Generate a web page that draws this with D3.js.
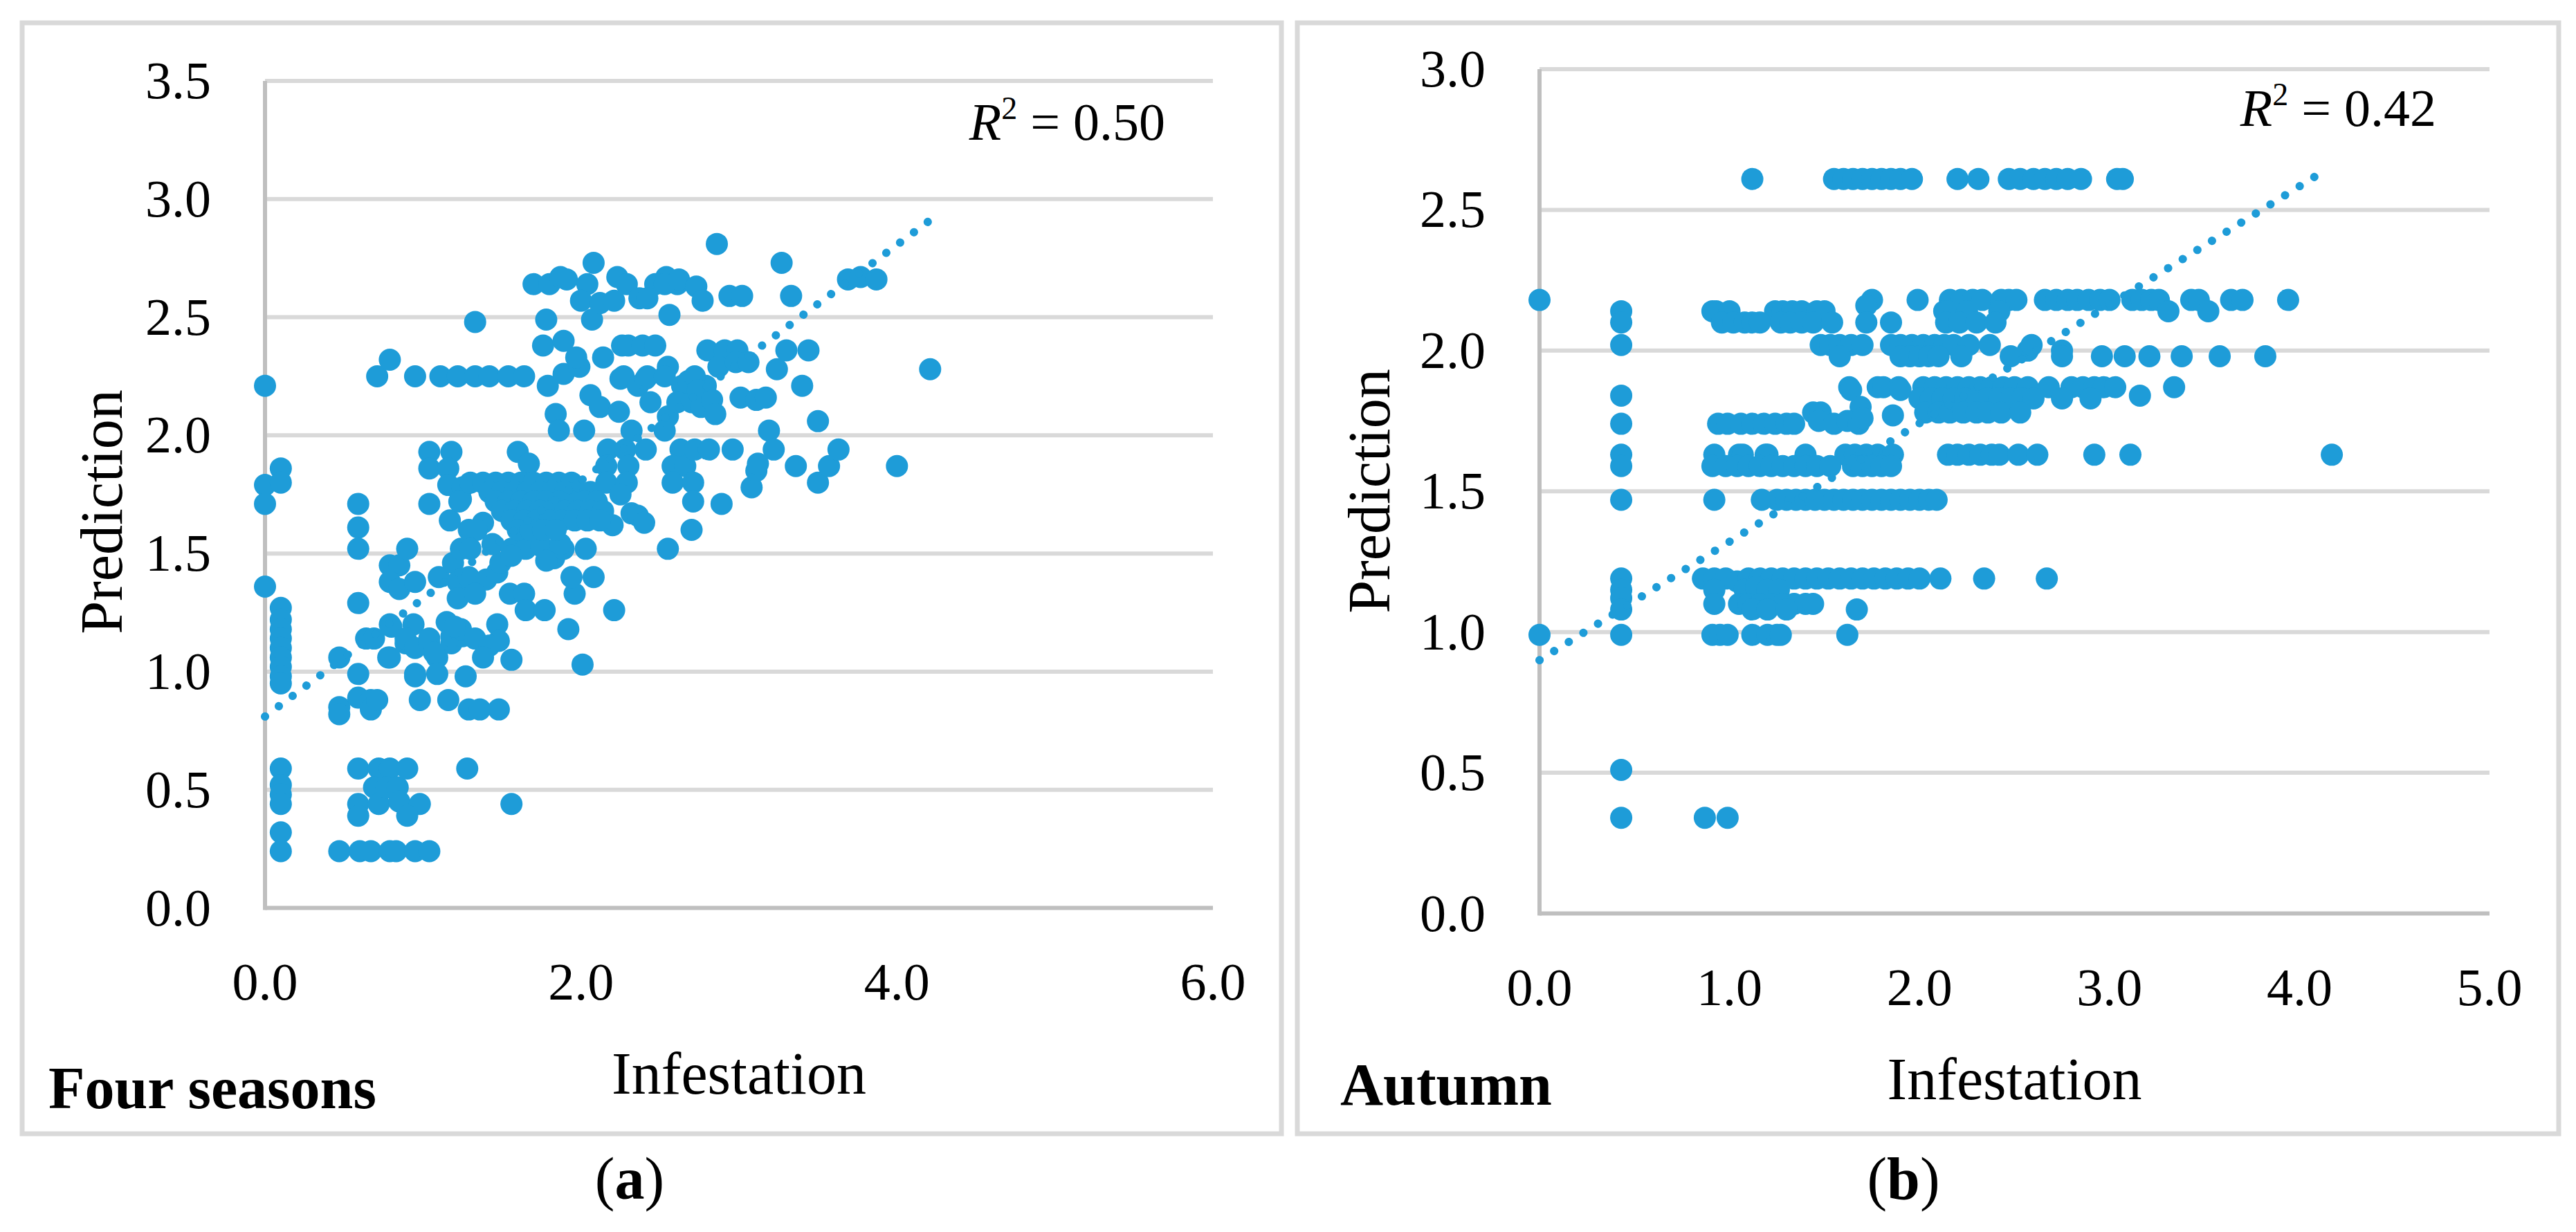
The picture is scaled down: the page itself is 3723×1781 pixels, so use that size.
<!DOCTYPE html>
<html>
<head>
<meta charset="utf-8">
<script src="https://cdn.jsdelivr.net/npm/d3@7"></script>
<style>
  body { margin: 0; background: #fff; }
  text { font-family: "Liberation Serif", "Times New Roman", serif; fill: #000; }
</style>
</head>
<body>
<div id="chart"></div>
<script>
// ---- data ----
// (a) four seasons: [infestation, prediction]
const fourSeasons = [
  [0,2.21],[0,1.79],[0,1.71],[0,1.36],
  [0.1,1.86],[0.1,1.80],[0.1,1.27],[0.1,1.22],[0.1,1.18],[0.1,1.14],[0.1,1.10],[0.1,1.06],[0.1,1.02],[0.1,0.98],[0.1,0.95],
  [0.1,0.59],[0.1,0.52],[0.1,0.48],[0.1,0.44],[0.1,0.32],[0.1,0.24],
  [0.47,1.06],[0.47,0.85],[0.47,0.82],[0.47,0.24],
  [0.59,1.71],[0.59,1.61],[0.59,1.52],[0.59,1.29],[0.59,0.99],[0.59,0.89],[0.59,0.59],[0.59,0.44],[0.59,0.39],[0.60,0.24],
  [0.64,1.14],[0.69,1.14],[0.67,0.88],[0.67,0.84],[0.71,0.88],[0.67,0.24],[0.72,0.59],[0.69,0.51],[0.72,0.44],[0.71,2.25],
  [0.79,2.32],[0.79,1.45],[0.85,1.45],[0.79,1.38],[0.85,1.35],[0.79,1.20],[0.80,1.19],[0.78,1.06],[0.79,1.06],
  [0.79,0.59],[0.77,0.51],[0.84,0.51],[0.85,0.45],[0.79,0.24],[0.83,0.24],
  [0.90,1.52],[0.95,1.38],[0.94,1.20],[0.89,1.12],[0.89,1.14],[0.95,1.10],[0.95,0.99],[0.95,0.98],[0.98,0.88],
  [0.90,0.59],[0.98,0.44],[0.90,0.39],[0.95,0.24],[0.95,2.25],
  [1.04,1.93],[1.18,1.93],[1.04,1.86],[1.16,1.86],[1.16,1.79],[1.04,1.71],[1.17,1.64],[1.10,1.40],[1.19,1.46],
  [1.15,1.21],[1.04,1.12],[1.04,1.14],[1.18,1.12],[1.18,1.15],[1.09,1.06],[1.07,1.08],[1.09,0.99],[1.16,0.88],
  [1.04,0.24],[1.11,2.25],[1.25,1.15],
  [1.22,2.25],[1.24,1.73],[1.25,1.78],[1.23,1.72],[1.24,1.52],[1.29,1.60],[1.22,1.38],[1.22,1.31],[1.29,1.40],
  [1.24,1.18],[1.20,1.19],[1.27,0.98],[1.29,0.84],[1.28,0.59],
  [1.33,2.25],[1.42,2.25],[1.33,2.48],[1.38,1.63],[1.34,1.60],[1.30,1.52],[1.40,1.39],[1.47,1.42],[1.33,1.33],
  [1.47,1.20],[1.48,1.13],[1.33,1.14],[1.42,1.11],[1.38,1.06],[1.36,0.84],[1.48,0.84],[1.49,1.46],[1.44,1.54],
  [1.54,2.25],[1.64,2.25],[1.60,1.93],[1.67,1.88],[1.56,1.52],[1.65,1.52],[1.56,1.49],[1.55,1.33],[1.64,1.33],
  [1.65,1.26],[1.56,1.05],[1.56,0.44],[1.70,2.64],
  [1.75,1.53],[1.83,1.48],[1.78,1.47],[1.89,1.52],[1.87,1.54],[1.77,1.26],[1.92,1.18],[1.80,2.64],[1.87,2.67],
  [1.91,2.66],[1.78,2.49],[1.76,2.38],[1.89,2.40],[1.79,2.21],[1.89,2.26],[1.84,2.09],[1.86,2.02],
  [1.96,1.33],[2.08,1.40],[1.94,1.40],[2.01,1.03],[2.03,1.52],[2.08,2.73],[2.04,2.64],[2.00,2.57],[2.07,2.49],
  [1.99,2.29],[1.97,2.33],[2.06,2.17],[2.02,2.02],
  [2.12,2.56],[2.21,2.57],[2.23,2.67],[2.29,2.64],[2.14,2.33],[2.26,2.38],[2.12,2.12],[2.25,2.24],[2.24,2.10],
  [2.21,1.26],[2.20,1.62],[2.17,1.94],[2.28,1.94],[2.16,1.87],[2.30,1.87],[2.16,1.80],[2.29,1.80],[2.25,1.75],
  [2.32,2.02],[2.30,2.38],[2.27,2.25],[2.32,1.67],[2.06,1.66],
  [2.37,2.58],[2.47,2.64],[2.39,2.38],[2.47,2.38],[2.36,2.21],[2.41,2.24],[2.44,2.14],[2.42,2.25],[2.41,1.94],
  [2.36,1.66],[2.40,1.63],[2.42,2.58],
  [2.54,2.67],[2.56,2.51],[2.61,2.64],[2.53,2.64],[2.62,2.66],[2.55,2.29],[2.53,2.02],[2.55,2.08],[2.64,2.21],
  [2.61,2.14],[2.63,1.94],[2.58,1.87],[2.66,1.87],[2.58,1.80],[2.55,1.52],[2.53,2.25],[2.68,2.23],
  [2.73,2.63],[2.77,2.57],[2.79,2.21],[2.70,2.14],[2.72,2.25],[2.74,2.19],[2.76,2.12],[2.72,1.94],[2.81,1.94],
  [2.71,1.80],[2.71,1.72],[2.70,1.60],[2.80,2.36],[2.83,2.15],[2.85,2.09],
  [2.86,2.81],[2.94,2.59],[2.91,2.36],[2.87,2.29],[2.96,1.94],[2.89,1.71],[2.99,2.36],[2.98,2.31],
  [3.02,2.59],[3.01,2.16],[3.06,2.31],[3.11,2.15],[3.17,2.16],[3.08,1.78],[3.11,1.85],[3.12,1.88],[3.19,2.02],
  [3.22,1.94],
  [3.27,2.73],[3.33,2.59],[3.24,2.28],[3.30,2.36],[3.44,2.36],[3.40,2.21],[3.50,2.06],[3.36,1.87],[3.50,1.80],
  [3.57,1.87],[3.63,1.94],[3.69,2.66],[3.77,2.67],[3.87,2.66],[4.00,1.87],[4.21,2.28],
  // dense band around 1.6 - 1.8
  [1.30,1.80],[1.38,1.80],[1.46,1.80],[1.54,1.80],[1.62,1.80],[1.70,1.80],[1.78,1.80],[1.86,1.80],[1.94,1.80],
  [1.42,1.76],[1.50,1.76],[1.58,1.76],[1.66,1.76],[1.74,1.76],[1.82,1.76],[1.90,1.76],[1.98,1.76],[2.06,1.76],
  [1.46,1.72],[1.54,1.72],[1.62,1.72],[1.70,1.72],[1.78,1.72],[1.86,1.72],[1.94,1.72],[2.02,1.72],[2.10,1.72],
  [1.50,1.68],[1.58,1.68],[1.66,1.68],[1.74,1.68],[1.82,1.68],[1.90,1.68],[1.98,1.68],[2.06,1.68],[2.14,1.68],
  [1.56,1.64],[1.64,1.64],[1.72,1.64],[1.80,1.64],[1.88,1.64],[1.96,1.64],[2.04,1.64],[2.12,1.64],
  [1.60,1.60],[1.68,1.60],[1.76,1.60],[1.84,1.60]
];

// (b) autumn: [infestation, prediction]
const autumn = [
  [0,2.18],[0,0.99],
  [0.43,2.14],[0.43,2.10],[0.43,2.02],[0.43,1.84],[0.43,1.74],[0.43,1.63],[0.43,1.59],[0.43,1.47],
  [0.43,1.19],[0.43,1.15],[0.43,1.12],[0.43,1.08],[0.43,0.99],[0.43,0.51],[0.43,0.34],
  [0.87,0.34],[0.99,0.34],
  // 2.61
  [1.12,2.61],[1.55,2.61],[1.60,2.61],[1.65,2.61],[1.70,2.61],[1.75,2.61],[1.80,2.61],[1.85,2.61],[1.90,2.61],
  [1.96,2.61],[2.20,2.61],[2.31,2.61],[2.47,2.61],[2.53,2.61],[2.60,2.61],[2.66,2.61],[2.72,2.61],[2.78,2.61],
  [2.85,2.61],[3.04,2.61],[3.07,2.61],
  // 2.18
  [1.75,2.18],[1.99,2.18],[2.16,2.18],[2.22,2.18],[2.28,2.18],[2.33,2.18],[2.43,2.18],[2.47,2.18],[2.51,2.18],
  [2.66,2.18],[2.72,2.18],[2.78,2.18],[2.83,2.18],[2.89,2.18],[2.95,2.18],[3.00,2.18],[3.12,2.18],[3.17,2.18],
  [3.22,2.18],[3.26,2.18],[3.43,2.18],[3.47,2.18],[3.64,2.18],[3.70,2.18],[3.94,2.18],
  // 2.14
  [0.91,2.14],[0.93,2.14],[1.00,2.14],[1.24,2.14],[1.28,2.14],[1.33,2.14],[1.38,2.14],[1.46,2.14],[1.50,2.14],
  [1.72,2.16],[2.13,2.14],[2.15,2.14],[2.25,2.14],[2.42,2.14],[3.31,2.14],[3.52,2.14],
  // 2.10
  [0.96,2.10],[1.02,2.10],[1.08,2.10],[1.12,2.10],[1.16,2.10],[1.27,2.10],[1.32,2.10],[1.38,2.10],[1.44,2.10],
  [1.54,2.10],[1.72,2.10],[1.85,2.10],[2.14,2.10],[2.21,2.10],[2.30,2.10],[2.40,2.10],
  // 2.02
  [1.48,2.02],[1.53,2.02],[1.58,2.02],[1.64,2.02],[1.70,2.02],[1.85,2.02],[1.90,2.02],[1.96,2.02],[2.02,2.02],
  [2.08,2.02],[2.13,2.02],[2.18,2.02],[2.26,2.02],[2.37,2.02],[2.57,2.00],[2.59,2.02],[2.75,2.00],
  // 1.98
  [1.58,1.98],[1.90,1.98],[1.95,1.98],[2.00,1.98],[2.05,1.98],[2.10,1.98],[2.22,1.98],[2.48,1.98],[2.75,1.98],
  [2.96,1.98],[3.08,1.98],[3.21,1.98],[3.38,1.98],[3.58,1.98],[3.82,1.98],
  // 1.87
  [1.63,1.87],[1.64,1.86],[1.78,1.87],[1.81,1.87],[1.89,1.87],[1.90,1.86],[2.02,1.87],[2.08,1.87],[2.14,1.87],
  [2.20,1.87],[2.26,1.87],[2.32,1.87],[2.38,1.87],[2.44,1.87],[2.50,1.87],[2.57,1.87],[2.68,1.87],[2.80,1.87],
  [2.86,1.87],[2.92,1.87],[2.97,1.87],[3.03,1.87],[3.34,1.87],
  // 1.83
  [2.00,1.83],[2.06,1.83],[2.12,1.83],[2.18,1.83],[2.24,1.83],[2.30,1.83],[2.36,1.83],[2.42,1.83],[2.48,1.83],
  [2.54,1.83],[2.60,1.83],[2.75,1.83],[2.90,1.83],[3.16,1.84],
  // 1.78
  [1.44,1.78],[1.48,1.78],[1.69,1.80],[1.86,1.77],[2.03,1.78],[2.10,1.78],[2.16,1.78],[2.23,1.78],[2.30,1.78],
  [2.36,1.78],[2.43,1.78],[2.53,1.78],
  // 1.74
  [0.94,1.74],[0.99,1.74],[1.06,1.74],[1.12,1.74],[1.18,1.74],[1.24,1.74],[1.30,1.74],[1.34,1.74],[1.47,1.75],
  [1.55,1.74],[1.62,1.75],[1.68,1.74],[1.70,1.76],
  // 1.63
  [0.92,1.63],[1.05,1.63],[1.07,1.63],[1.19,1.63],[1.20,1.63],[1.40,1.63],[1.61,1.63],[1.66,1.63],[1.72,1.63],
  [1.78,1.63],[1.86,1.63],[2.15,1.63],[2.20,1.63],[2.26,1.63],[2.32,1.63],[2.38,1.63],[2.42,1.63],[2.52,1.63],
  [2.62,1.63],[2.92,1.63],[3.11,1.63],[4.17,1.63],
  // 1.59
  [0.91,1.59],[0.98,1.59],[1.04,1.59],[1.10,1.59],[1.16,1.59],[1.22,1.59],[1.28,1.59],[1.34,1.59],[1.40,1.59],
  [1.46,1.59],[1.53,1.59],[1.65,1.59],[1.70,1.59],[1.75,1.59],[1.80,1.59],[1.85,1.59],
  // 1.47
  [0.92,1.47],[1.17,1.47],[1.25,1.47],[1.30,1.47],[1.35,1.47],[1.40,1.47],[1.45,1.47],[1.50,1.47],[1.55,1.47],
  [1.60,1.47],[1.65,1.47],[1.70,1.47],[1.75,1.47],[1.80,1.47],[1.85,1.47],[1.90,1.47],[1.95,1.47],[2.00,1.47],
  [2.05,1.47],[2.09,1.47],
  // 1.19
  [0.86,1.19],[0.92,1.19],[0.98,1.19],[1.04,1.18],[1.10,1.19],[1.16,1.19],[1.22,1.19],[1.28,1.19],[1.34,1.19],
  [1.40,1.19],[1.46,1.19],[1.52,1.19],[1.58,1.19],[1.64,1.19],[1.70,1.19],[1.76,1.19],[1.82,1.19],[1.88,1.19],
  [1.94,1.19],[2.00,1.19],[2.11,1.19],[2.34,1.19],[2.67,1.19],
  // 1.15 - 1.08
  [0.92,1.15],[1.08,1.15],[1.14,1.16],[1.20,1.15],[1.26,1.15],
  [0.92,1.10],[1.05,1.10],[1.10,1.10],[1.16,1.10],[1.22,1.10],[1.28,1.10],[1.34,1.10],[1.40,1.10],[1.44,1.10],
  [1.12,1.08],[1.20,1.08],[1.30,1.08],[1.67,1.08],
  // 0.99
  [0.91,0.99],[0.95,0.99],[0.99,0.99],[1.12,0.99],[1.20,0.99],[1.25,0.99],[1.27,0.99],[1.62,0.99]
];

// linear trend lines: [intercept, slope, last x]
const trendA = [0.81, 0.499, 4.23];
const trendB = [0.90, 0.421, 4.11];

const xTicksA = [0, 2, 4, 6];
const yTicksA = [0, 0.5, 1, 1.5, 2, 2.5, 3, 3.5];
const xTicksB = [0, 1, 2, 3, 4, 5];
const yTicksB = [0, 0.5, 1, 1.5, 2, 2.5, 3];

const r2A = "0.50", r2B = "0.42";

// ---- drawing ----
const width = 3723, height = 1781;
const blue = "#1e9cd8";

const svg = d3.select("#chart").append("svg")
  .attr("width", width)
  .attr("height", height)
  .attr("viewBox", [0, 0, width, height]);

const panels = [
  {
    data: fourSeasons, trend: trendA, xTicks: xTicksA, yTicks: yTicksA, r2: r2A,
    box: [32, 33, 1852, 1639], left: 383, right: 1753, top: 117, bottom: 1312.5,
    yTitle: [176, 740], tag: "Four seasons", tagPos: [70, 1602], r2Pos: [1684, 202],
    sub: "a", subPos: [910, 1733]
  },
  {
    data: autumn, trend: trendB, xTicks: xTicksB, yTicks: yTicksB, r2: r2B,
    box: [1875, 33, 3698, 1639], left: 2225, right: 3598, top: 100, bottom: 1320.5,
    yTitle: [2008, 710], tag: "Autumn", tagPos: [1937, 1597], r2Pos: [3521, 182],
    sub: "b", subPos: [2751, 1733]
  }
];

panels.forEach(p => {
  const x = d3.scaleLinear().domain([0, d3.max(p.xTicks)]).range([p.left, p.right]);
  const y = d3.scaleLinear().domain([0, d3.max(p.yTicks)]).range([p.bottom, p.top]);

  // frame round the chart
  svg.append("rect")
    .attr("x", p.box[0]).attr("y", p.box[1])
    .attr("width", p.box[2] - p.box[0]).attr("height", p.box[3] - p.box[1])
    .attr("fill", "none").attr("stroke", "#d9d9d9").attr("stroke-width", 7);

  const g = svg.append("g");

  // gridlines
  g.selectAll(".grid")
    .data(p.yTicks.filter(d => d > 0))
    .join("line")
      .attr("x1", p.left).attr("x2", p.right)
      .attr("y1", d => y(d)).attr("y2", d => y(d))
      .attr("stroke", "#d9d9d9").attr("stroke-width", 6);

  // axis lines
  g.append("line")
    .attr("x1", p.left).attr("x2", p.right)
    .attr("y1", y(0)).attr("y2", y(0))
    .attr("stroke", "#bfbfbf").attr("stroke-width", 6);
  g.append("line")
    .attr("x1", x(0)).attr("x2", x(0))
    .attr("y1", y(d3.max(p.yTicks))).attr("y2", y(0) + 3)
    .attr("stroke", "#bfbfbf").attr("stroke-width", 6);

  // tick labels
  g.selectAll(".ytick")
    .data(p.yTicks)
    .join("text")
      .attr("x", p.left - 78)
      .attr("y", d => y(d))
      .attr("dy", "0.33em")
      .attr("text-anchor", "end")
      .attr("font-size", 76)
      .text(d => d3.format(".1f")(d));

  g.selectAll(".xtick")
    .data(p.xTicks)
    .join("text")
      .attr("x", d => x(d))
      .attr("y", y(0) + 132)
      .attr("text-anchor", "middle")
      .attr("font-size", 76)
      .text(d => d3.format(".1f")(d));

  // axis titles
  g.append("text")
    .attr("x", (p.left + p.right) / 2)
    .attr("y", y(0) + 268)
    .attr("text-anchor", "middle")
    .attr("font-size", 86)
    .text("Infestation");

  g.append("text")
    .attr("transform", `translate(${p.yTitle[0]},${p.yTitle[1]}) rotate(-90)`)
    .attr("text-anchor", "middle")
    .attr("font-size", 86)
    .text("Prediction");

  // points
  g.append("g")
    .attr("fill", blue)
    .selectAll("circle")
    .data(p.data)
    .join("circle")
      .attr("cx", d => x(d[0]))
      .attr("cy", d => y(d[1]))
      .attr("r", 16);

  // dotted trend line
  const [b0, b1, xEnd] = p.trend;
  const line = d3.line().x(d => x(d)).y(d => y(b0 + b1 * d));
  g.append("path")
    .datum([0, xEnd])
    .attr("d", line)
    .attr("fill", "none")
    .attr("stroke", blue)
    .attr("stroke-width", 12)
    .attr("stroke-linecap", "round")
    .attr("stroke-dasharray", "0.1 24.8");

  // R squared
  const r = g.append("text")
    .attr("x", p.r2Pos[0]).attr("y", p.r2Pos[1])
    .attr("text-anchor", "end")
    .attr("font-size", 76);
  r.append("tspan").attr("font-style", "italic").text("R");
  r.append("tspan").attr("font-size", 46).attr("dy", -30).text("2");
  r.append("tspan").attr("dy", 30).text(" = " + p.r2);

  // panel tag
  g.append("text")
    .attr("x", p.tagPos[0]).attr("y", p.tagPos[1])
    .attr("font-size", 86)
    .attr("font-weight", "bold")
    .text(p.tag);

  // (a) / (b)
  const s = svg.append("text")
    .attr("x", p.subPos[0]).attr("y", p.subPos[1])
    .attr("text-anchor", "middle")
    .attr("font-size", 86);
  s.append("tspan").text("(");
  s.append("tspan").attr("font-weight", "bold").text(p.sub);
  s.append("tspan").text(")");
});
</script>
</body>
</html>
